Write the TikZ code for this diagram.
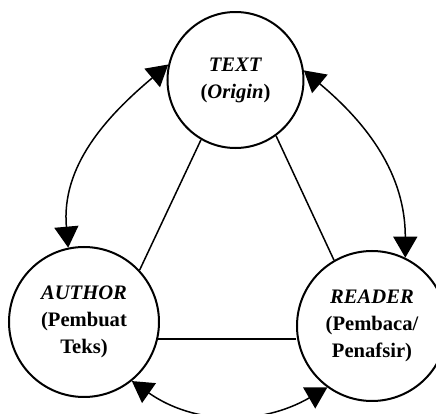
\documentclass[tikz,border=0pt]{standalone}
\usepackage{fontspec}
\setmainfont{Liberation Serif}
\usetikzlibrary{arrows.meta}

\begin{document}
\begin{tikzpicture}[x = 0.5pt, y = 0.5pt,
    party/.style = {draw, circle, line width = 1pt, align = center, inner sep = 0pt,
        font = \fontsize{10.3}{13.5}\selectfont\bfseries},
    link/.style = {line width = 0.75pt},
    flow/.style = {line width = 0.75pt,
        {Triangle[length = 10.5pt, width = 12pt]}-{Triangle[length = 10.5pt, width = 12pt]}}]
    \useasboundingbox (0, 0) rectangle (436, 414);

    \node[party, minimum size = 68pt] (T) at (235.5, 334){\textit{TEXT}\\(\textit{Origin})};
    \node[party, minimum size = 75pt] (A) at (84, 92){\textit{AUTHOR}\\(Pembuat\\Teks)};
    \node[party, minimum size = 75pt] (R) at (372, 88){\textit{READER}\\(Pembaca/\\Penafsir)};

    \draw[link] (T.240) -- (A.43);
    \draw[link] (T.306) -- (R.120);
    \draw[link] (A.-13) -- (A.-13 -| R.west);

    \draw[flow] (T.167) to[out = 220, in = 95] (A.102);
    \draw[flow] (T.8) to[out = -40, in = 90] (R.64);
    \draw[flow] (A.-51) to[out = -35, in = 210] (R.234);
\end{tikzpicture}
\end{document}
